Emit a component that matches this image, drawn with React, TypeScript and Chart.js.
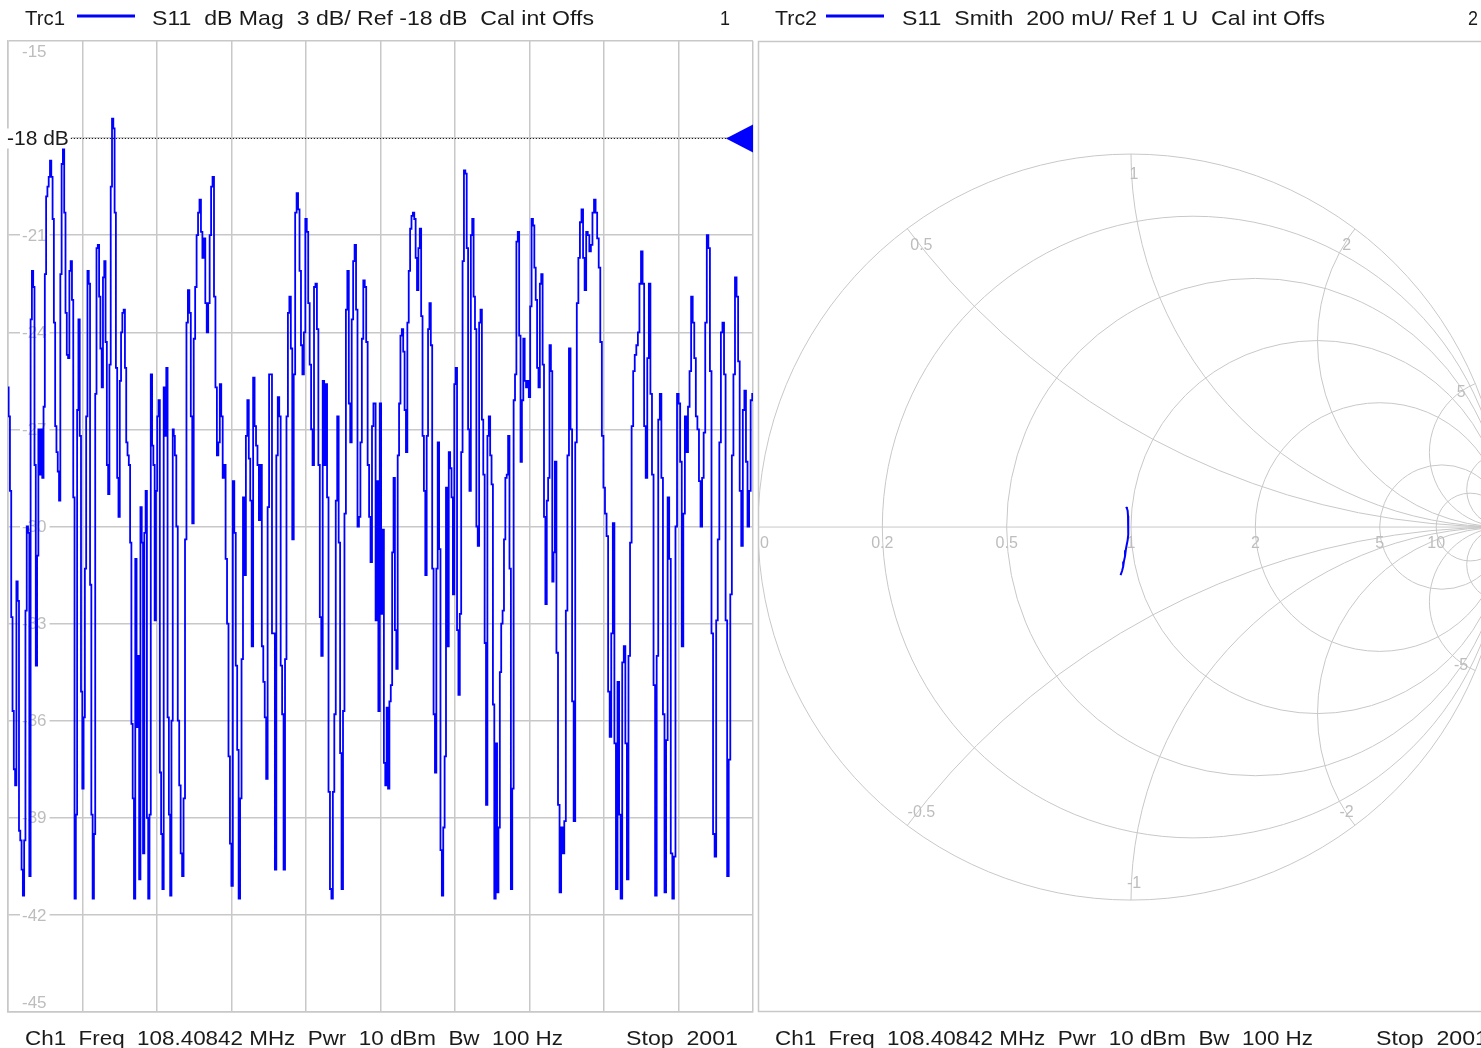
import React, { useEffect, useRef } from "react";
import { Chart, registerables } from "chart.js";

Chart.register(...registerables);

// ---- Trace 1: S11 magnitude (dB) over the CW sweep, 2001 points ----
const SWEEP_LAST = 2000;
const Y_MIN = -45;
const Y_MAX = -15;
const Y_STEP = 3;
const REF_LEVEL = -18;
const yTickLabels = ["-15", "-21", "-24", "-27", "-30", "-33", "-36", "-39", "-42", "-45"];

// sweep-point span covered by each trace segment
const segStart = [0, 446, 985, 1466];
const segEnd = [444, 983, 1463, 2000];

const traceSeg1 = [
  -25.7, -26.6, -28.9, -32.8, -35.7, -37.5, -38.0, -31.7, -32.3, -39.4, -39.7, -40.6, -41.4, -39.7,
  -32.6, -30.0, -30.2, -40.8, -23.6, -22.1, -22.6, -28.1, -34.3, -30.9, -27.0, -28.4, -27.0, -28.5, -26.3, -22.2,
  -19.8, -19.5, -19.2, -18.7, -19.2, -20.5, -23.7, -26.9, -27.7, -28.3, -29.2, -22.2, -18.8, -18.0, -20.3, -23.4, -24.7, -24.8, -22.1,
  -21.8, -23.0, -29.1, -41.5, -38.9, -26.4, -23.6, -27.2, -35.1, -38.1, -35.9, -31.3, -26.6, -22.1, -22.5, -31.8, -38.9, -41.5, -39.5, -25.9, -21.4,
  -21.3, -22.9, -24.5, -25.7, -22.3, -21.8, -24.3, -28.1, -29.0, -25.0, -19.5, -17.4, -17.7, -20.3, -25.1, -28.5, -29.7, -25.5, -24.0, -23.4, -23.3,
  -25.1, -27.4, -27.8, -28.1, -30.5, -36.1, -38.4, -41.5, -31.0, -36.2, -34.0, -40.9, -29.4, -30.5, -40.1, -30.2, -28.9, -39.0, -41.5, -38.9,
  -25.3, -27.5, -28.1, -32.9, -28.9, -26.6, -26.1, -37.6, -39.5, -41.2, -25.7, -27.2, -25.1, -35.9, -38.9, -41.4, -36.0, -27.0,
];

const traceSeg2 = [
  -27.2, -27.8, -30.0, -36.0, -38.0, -40.1, -40.8, -38.4, -30.4, -23.7, -22.7, -23.4, -26.6, -29.9, -24.2,
  -22.6, -21.0, -20.3, -19.9, -20.9, -21.7, -21.1, -23.1, -24.0, -23.1, -21.0, -19.5, -19.2, -22.9, -25.7, -27.8,
  -27.4, -25.6, -26.6, -28.5, -28.1, -31.0, -33.0, -37.1, -39.8, -41.1, -28.6, -30.2, -34.3, -36.9, -41.5, -38.4,
  -34.1, -29.1, -31.5, -27.2, -26.1, -27.9, -29.2, -33.7, -25.4, -26.9, -27.5, -28.1, -29.8, -28.1, -33.7, -34.8,
  -35.9, -37.8, -29.4, -25.3, -25.3, -33.3, -33.3, -40.6, -27.8, -26.0, -26.6, -34.3, -35.8, -40.6, -34.1, -26.6,
  -23.4, -22.9, -24.5, -30.4, -25.3, -20.3, -19.7, -20.2, -22.1, -24.4, -25.3, -24.0, -20.5, -20.9, -23.1, -25.0,
  -27.0, -28.1, -22.6, -22.5, -23.9, -28.1, -32.8, -34.0, -25.5, -28.1, -25.6, -29.1, -38.2, -41.2, -41.5, -38.2,
  -35.8, -29.2, -26.6, -30.5, -37.0, -41.2, -35.7, -29.6, -23.3, -22.1, -26.2, -27.4, -23.6, -21.8, -21.3, -23.3,
  -30.0, -29.7, -27.4, -24.2, -22.4, -22.6, -24.3, -28.1, -29.7, -31.1, -26.9, -26.2,
];

const traceSeg3 = [
  -26.2, -32.9, -28.6, -35.7, -26.2, -32.7, -30.1, -37.3, -38.0, -35.6, -38.1, -35.4, -34.9, -30.8,
  -28.5, -33.2, -34.4, -27.8, -26.2, -24.1, -23.9, -24.6, -26.4, -27.7, -23.7, -22.1, -20.8, -20.4,
  -20.3, -20.5, -21.7, -22.7, -21.4, -20.8, -23.5, -27.2, -28.9, -31.5, -27.2, -23.9, -23.1, -24.4,
  -31.3, -35.8, -37.6, -31.3, -27.4, -30.7, -40.0, -41.4, -39.3, -37.1, -28.8, -33.7, -27.7, -28.2,
  -29.1, -32.1, -25.6, -25.1, -33.2, -35.2, -32.7, -27.7, -21.8, -19.0, -19.1, -21.4, -27.0, -28.9,
  -21.0, -20.5, -22.9, -23.9, -30.0, -30.6, -23.7, -23.3, -26.7, -28.4, -33.6, -38.6, -27.2, -26.6,
  -27.8, -28.7, -35.5, -41.5, -36.7, -41.3, -39.3, -34.5, -33.0, -32.6, -30.4, -28.5, -28.4, -27.2,
  -31.3, -41.2, -38.1, -26.1, -25.3, -21.2, -20.9, -24.1, -28.0, -26.1, -24.2, -25.5, -25.7, -25.5,
  -26.0, -23.2, -20.5, -20.7, -22.0, -23.0, -25.1, -25.7, -22.5, -22.2, -25.0, -29.7, -32.4, -29.2,
  -28.5, -24.4, -25.2, -31.7,
];

const traceSeg4 = [
  -30.8, -28.0, -33.9, -38.6, -41.3, -39.3, -40.1, -39.1, -32.6, -27.8, -24.5, -27.0, -35.4, -39.1,
  -27.4, -23.1, -21.7, -20.6, -20.2, -21.7, -22.7, -20.9, -21.0, -21.5, -21.3, -20.3, -19.9, -20.3,
  -21.1, -22.0, -24.3, -27.2, -28.8, -29.6, -30.3, -35.1, -36.5, -33.3, -29.9, -36.7, -41.2, -34.8,
  -38.9, -41.5, -34.2, -33.7, -36.7, -40.9, -34.0, -30.5, -26.9, -25.2, -24.7, -24.4, -24.0, -22.5,
  -21.5, -22.5, -26.9, -28.5, -24.8, -22.5, -25.9, -28.4, -34.9, -41.4, -34.0, -26.7, -25.9, -28.5,
  -35.8, -41.3, -36.6, -29.1, -31.0, -40.1, -41.5, -40.2, -30.0, -25.9, -26.2, -28.0, -33.7, -29.6,
  -26.6, -27.7, -26.3, -25.2, -22.9, -23.7, -24.8, -26.6, -27.0, -28.6, -30.0, -28.5, -27.1, -23.7,
  -21.0, -21.4, -25.2, -33.3, -39.5, -40.2, -32.9, -30.4, -27.4, -24.0, -23.7, -25.3, -32.9, -40.8,
  -37.2, -32.1, -27.8, -25.3, -22.3, -22.9, -24.9, -28.9, -30.6, -26.4, -25.8, -28.0, -30.0, -28.9,
  -26.1, -25.9,
];

// ---- Trace 2: S11 on the Smith chart (reflection coefficient) ----
const smithRe = [-0.013, -0.011, -0.009, -0.008, -0.007, -0.007, -0.008, -0.009, -0.012, -0.014, -0.016, -0.019, -0.021, -0.024, -0.028];
const smithIm = [0.054, 0.050, 0.044, 0.030, 0.012, 0.001, -0.020, -0.035, -0.050, -0.062, -0.078, -0.092, -0.106, -0.118, -0.129];

// Smith grid
const resistanceValues = [0.2, 0.5, 1, 2, 5, 10];
const resistanceLabels = ["0", "0.2", "0.5", "1", "2", "5", "10"];
const reactanceValues = [0.5, 1, 2, 5, 10];
const reactanceLabelValues = [0.5, 1, 2, 5, -0.5, -1, -2, -5];

// header / footer texts
const trc1Label = "Trc1";
const trc1Desc = "S11  dB Mag  3 dB/ Ref -18 dB  Cal int Offs";
const trc2Label = "Trc2";
const trc2Desc = "S11  Smith  200 mU/ Ref 1 U  Cal int Offs";
const chanInfo = "Ch1  Freq  108.40842 MHz  Pwr  10 dBm  Bw  100 Hz";
const stopInfo = "Stop  2001";

const TRACE_BLUE = "#0000ff";
const GRID = "#c8c8c8";
const LABEL_GREY = "#bdbdbd";
const TEXT = "#1a1a1a";
const FONT = '"Liberation Sans", Arial, sans-serif';

const LEFT_W = 756;
const RIGHT_X = 756;
const RIGHT_W = 752;
const H = 1048;

function buildTrace() {
  const segs = [traceSeg1, traceSeg2, traceSeg3, traceSeg4];
  const pts: { x: number; y: number }[] = [];
  segs.forEach((seg, s) => {
    const a = segStart[s];
    const b = segEnd[s];
    seg.forEach((v, i) => {
      pts.push({ x: a + ((b - a) * i) / (seg.length - 1), y: v });
    });
  });
  return pts;
}

function fitText(ctx: CanvasRenderingContext2D, text: string, x: number, baseline: number, width: number, size: number, color: string) {
  ctx.save();
  ctx.font = `${size}px ${FONT}`;
  const w = ctx.measureText(text).width;
  ctx.translate(x, baseline);
  ctx.scale(width / w, 1);
  ctx.fillStyle = color;
  ctx.textBaseline = "alphabetic";
  ctx.textAlign = "left";
  ctx.fillText(text, 0, 0);
  ctx.restore();
}

function drawHeaderFooter(ctx: CanvasRenderingContext2D, off: number, label: string, desc: string, num: string, descW: number) {
  fitText(ctx, label, (off ? 775 : 25) - off, 25, off ? 42 : 40, 21, TEXT);
  const lx = (off ? 826 : 77) - off;
  ctx.save();
  ctx.strokeStyle = TRACE_BLUE;
  ctx.lineWidth = 3;
  ctx.beginPath();
  ctx.moveTo(lx, 16);
  ctx.lineTo(lx + 58, 16);
  ctx.stroke();
  ctx.restore();
  fitText(ctx, desc, (off ? 902 : 152) - off, 25, descW, 21, TEXT);
  fitText(ctx, num, (off ? 1468 : 720) - off, 25, 10, 21, TEXT);
  fitText(ctx, chanInfo, (off ? 775 : 25) - off, 1045, 538, 21, TEXT);
  fitText(ctx, stopInfo, (off ? 1376 : 626) - off, 1045, 112, 21, TEXT);
}

const magPlugin = {
  id: "magDecor",
  beforeDatasetsDraw(chart: any) {
    const { ctx, chartArea: a, scales } = chart;
    const ys = scales.y;
    ctx.save();
    ctx.font = `17px ${FONT}`;
    ctx.textBaseline = "middle";
    ctx.textAlign = "left";
    yTickLabels.forEach((t) => {
      const v = Number(t);
      let y = ys.getPixelForValue(v);
      if (v === Y_MAX) y += 10;
      if (v === Y_MIN) y -= 10;
      const w = ctx.measureText(t).width;
      ctx.fillStyle = "#ffffff";
      ctx.fillRect(a.left + 12, y - 8, w + 5, 16);
      ctx.fillStyle = LABEL_GREY;
      ctx.fillText(t, a.left + 14, y + 1);
    });
    ctx.restore();
  },
  afterDatasetsDraw(chart: any) {
    const { ctx, chartArea: a, scales } = chart;
    const y = Math.round(scales.y.getPixelForValue(REF_LEVEL)) + 0.5;
    ctx.save();
    ctx.font = `21px ${FONT}`;
    const lab = `${REF_LEVEL} dB`;
    const lw = ctx.measureText(lab).width;
    ctx.fillStyle = "#ffffff";
    ctx.fillRect(a.left - 1, y - 10, lw + 2, 20);
    ctx.fillStyle = TEXT;
    ctx.textBaseline = "middle";
    ctx.fillText(lab, a.left - 1, y + 1);
    ctx.strokeStyle = "#000000";
    ctx.lineWidth = 1;
    ctx.setLineDash([1, 2]);
    ctx.beginPath();
    ctx.moveTo(a.left + lw + 1, y);
    ctx.lineTo(a.right - 27, y);
    ctx.stroke();
    ctx.setLineDash([]);
    ctx.fillStyle = TRACE_BLUE;
    ctx.beginPath();
    ctx.moveTo(a.right - 27, y);
    ctx.lineTo(a.right, y - 14);
    ctx.lineTo(a.right, y + 14);
    ctx.closePath();
    ctx.fill();
    ctx.restore();
  },
  afterDraw(chart: any) {
    drawHeaderFooter(chart.ctx, 0, trc1Label, trc1Desc, "1", 442);
  },
};

const smithPlugin = {
  id: "smithGrid",
  beforeDatasetsDraw(chart: any) {
    const { ctx, chartArea: a, scales } = chart;
    const xs = scales.x;
    const ys = scales.y;
    const cx = xs.getPixelForValue(0);
    const cy = ys.getPixelForValue(0);
    const R = xs.getPixelForValue(1) - cx;
    const circle = (x: number, y: number, r: number) => {
      ctx.beginPath();
      ctx.arc(x, y, r, 0, Math.PI * 2);
      ctx.stroke();
    };
    ctx.save();
    ctx.beginPath();
    ctx.rect(a.left, a.top, a.width, a.height);
    ctx.clip();
    ctx.strokeStyle = GRID;
    ctx.lineWidth = 1;
    circle(cx, cy, R);
    ctx.beginPath();
    ctx.moveTo(a.left, cy);
    ctx.lineTo(a.right, cy);
    ctx.stroke();
    resistanceValues.forEach((r) => circle(cx + (R * r) / (1 + r), cy, R / (1 + r)));
    ctx.save();
    ctx.beginPath();
    ctx.arc(cx, cy, R, 0, Math.PI * 2);
    ctx.clip();
    reactanceValues.forEach((x) => {
      circle(cx + R, cy - R / x, R / x);
      circle(cx + R, cy + R / x, R / x);
    });
    ctx.restore();

    ctx.font = `16px ${FONT}`;
    ctx.fillStyle = LABEL_GREY;
    ctx.textAlign = "center";
    ctx.textBaseline = "middle";
    const rVals = [0, ...resistanceValues];
    rVals.forEach((r, i) => {
      const t = resistanceLabels[i];
      const w = ctx.measureText(t).width;
      let px = cx + (R * (r - 1)) / (r + 1);
      px = Math.max(px, a.left + w / 2 + 2);
      ctx.fillText(t, px, cy + 17);
    });
    reactanceLabelValues.forEach((x) => {
      // z = jx  ->  gamma = (jx - 1) / (jx + 1)
      const d = 1 + x * x;
      const gr = (x * x - 1) / d;
      const gi = (2 * x) / d;
      ctx.fillText(String(x), cx + R * gr * 0.95 + 3, cy - R * gi * 0.95 + 2);
    });
    ctx.restore();

    ctx.save();
    ctx.strokeStyle = GRID;
    ctx.lineWidth = 1.5;
    ctx.strokeRect(a.left + 0.5, a.top + 0.5, a.width, a.height - 1);
    ctx.restore();
  },
  afterDraw(chart: any) {
    drawHeaderFooter(chart.ctx, RIGHT_X, trc2Label, trc2Desc, "2", 423);
  },
};

export default function App() {
  const magRef = useRef<HTMLCanvasElement | null>(null);
  const smithRef = useRef<HTMLCanvasElement | null>(null);

  useEffect(() => {
    const mag = new Chart(magRef.current as HTMLCanvasElement, {
      type: "line",
      data: {
        datasets: [
          {
            data: buildTrace(),
            borderColor: TRACE_BLUE,
            borderWidth: 1.8,
            pointRadius: 0,
            stepped: "middle",
            fill: false,
          },
        ],
      },
      options: {
        animation: false,
        responsive: false,
        events: [],
        layout: { padding: { left: 8, right: 3, top: 41, bottom: 36 } },
        plugins: { legend: { display: false }, tooltip: { enabled: false } },
        scales: {
          x: {
            type: "linear",
            min: 0,
            max: SWEEP_LAST,
            ticks: { display: false, stepSize: 200 },
            grid: { color: GRID, lineWidth: 1.5, drawTicks: false },
            border: { display: true, color: GRID, width: 1.5 },
          },
          y: {
            type: "linear",
            min: Y_MIN,
            max: Y_MAX,
            ticks: { display: false, stepSize: Y_STEP },
            grid: { color: GRID, lineWidth: 1.5, drawTicks: false },
            border: { display: true, color: GRID, width: 1.5 },
          },
        },
      },
      plugins: [magPlugin],
    });

    const smith = new Chart(smithRef.current as HTMLCanvasElement, {
      type: "scatter",
      data: {
        datasets: [
          {
            data: smithRe.map((re, i) => ({ x: re, y: smithIm[i] })),
            borderColor: TRACE_BLUE,
            borderWidth: 2,
            showLine: true,
            pointRadius: 0,
            tension: 0,
          },
        ],
      },
      options: {
        animation: false,
        responsive: false,
        events: [],
        layout: { padding: { left: 2, right: RIGHT_W - 748, top: 41, bottom: 36 } },
        plugins: { legend: { display: false }, tooltip: { enabled: false } },
        scales: {
          x: { type: "linear", display: false, min: -1, max: 1 },
          y: { type: "linear", display: false, min: -1.3, max: 1.303 },
        },
      },
      plugins: [smithPlugin],
    });

    return () => {
      mag.destroy();
      smith.destroy();
    };
  }, []);

  return (
    <div
      style={{
        position: "fixed",
        left: 0,
        top: 0,
        width: "100vw",
        height: H,
        overflow: "hidden",
        background: "#ffffff",
      }}
    >
      <canvas
        ref={magRef}
        width={LEFT_W}
        height={H}
        style={{ position: "absolute", left: 0, top: 0, width: LEFT_W, height: H }}
      />
      <canvas
        ref={smithRef}
        width={RIGHT_W}
        height={H}
        style={{ position: "absolute", left: RIGHT_X, top: 0, width: RIGHT_W, height: H }}
      />
    </div>
  );
}
